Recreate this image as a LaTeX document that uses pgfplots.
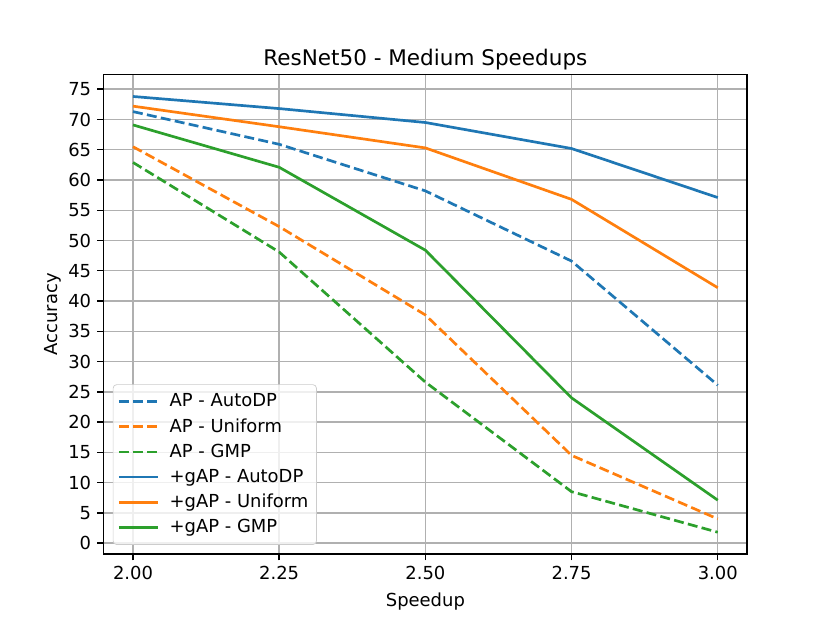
\documentclass[border=0pt]{standalone}
\usepackage{fontspec}
\setmainfont{DejaVu Sans}
\usepackage{pgfplots}
\pgfplotsset{compat=1.18}

\definecolor{c0}{HTML}{1F77B4}
\definecolor{c1}{HTML}{FF7F0E}
\definecolor{c2}{HTML}{2CA02C}
\definecolor{gridgray}{HTML}{B0B0B0}

\begin{document}
\begin{tikzpicture}
  % figure area 6.4in x 4.8in, axes box as in matplotlib defaults
  \useasboundingbox (-0.8in,-0.528in) rectangle (5.6in,4.272in);
  \begin{axis}[
      at={(0,0)}, anchor=south west,
      scale only axis,
      width=4.96in, height=3.696in,
      xmin=1.95, xmax=3.05,
      ymin=-1.8, ymax=77.4,
      xtick={2,2.25,2.5,2.75,3},
      ytick={0,5,...,75},
      xticklabel style={/pgf/number format/.cd, fixed, fixed zerofill, precision=2},
      /pgf/number format/assume math mode=true,
      xtick pos=bottom, ytick pos=left,
      tick align=outside,
      major tick length=3.5pt,
      tick style={line width=0.8pt, black},
      axis line style={line width=0.8pt},
      grid=major,
      grid style={line width=0.8pt, draw=gridgray},
      ticklabel style={font=\fontsize{10}{12}\selectfont},
      xlabel={Speedup}, ylabel={Accuracy},
      ylabel shift=-3pt,
      label style={font=\fontsize{10}{12}\selectfont},
      title={ResNet50 - Medium Speedups},
      title style={font=\fontsize{12}{14}\selectfont, yshift=-7pt},
      legend style={at={(0.014,0.019)}, anchor=south west,
        draw=black!20, fill=white, fill opacity=0.8, text opacity=1,
        rounded corners=2pt,
        font=\fontsize{10}{12}\selectfont,
        row sep=1.1pt, column sep=3.5pt, inner xsep=2.5pt, inner ysep=3pt},
      legend cell align=left,
      legend image code/.code={\draw[#1] (0pt,0pt) -- (22pt,0pt);},
      every axis plot/.append style={line width=1.5pt},
      dashstyle/.style={dash pattern=on 5.55pt off 2.4pt},
    ]

    \addplot[c0, dashstyle] coordinates {
      (2.00,71.3) (2.25,65.9) (2.50,58.2) (2.75,46.6) (3.00,26.1)};
    \addlegendentry{AP - AutoDP}
    \addplot[c1, dashstyle] coordinates {
      (2.00,65.5) (2.25,52.3) (2.50,37.7) (2.75,14.5) (3.00,4.0)};
    \addlegendentry{AP - Uniform}
    \addplot[c2, dashstyle] coordinates {
      (2.00,62.9) (2.25,48.1) (2.50,26.6) (2.75,8.5) (3.00,1.8)};
    \addlegendentry{AP - GMP}
    \addplot[c0] coordinates {
      (2.00,73.8) (2.25,71.8) (2.50,69.5) (2.75,65.2) (3.00,57.1)};
    \addlegendentry{+gAP - AutoDP}
    \addplot[c1] coordinates {
      (2.00,72.2) (2.25,68.8) (2.50,65.3) (2.75,56.8) (3.00,42.2)};
    \addlegendentry{+gAP - Uniform}
    \addplot[c2] coordinates {
      (2.00,69.1) (2.25,62.1) (2.50,48.4) (2.75,24.0) (3.00,7.1)};
    \addlegendentry{+gAP - GMP}
  \end{axis}
\end{tikzpicture}
\end{document}
